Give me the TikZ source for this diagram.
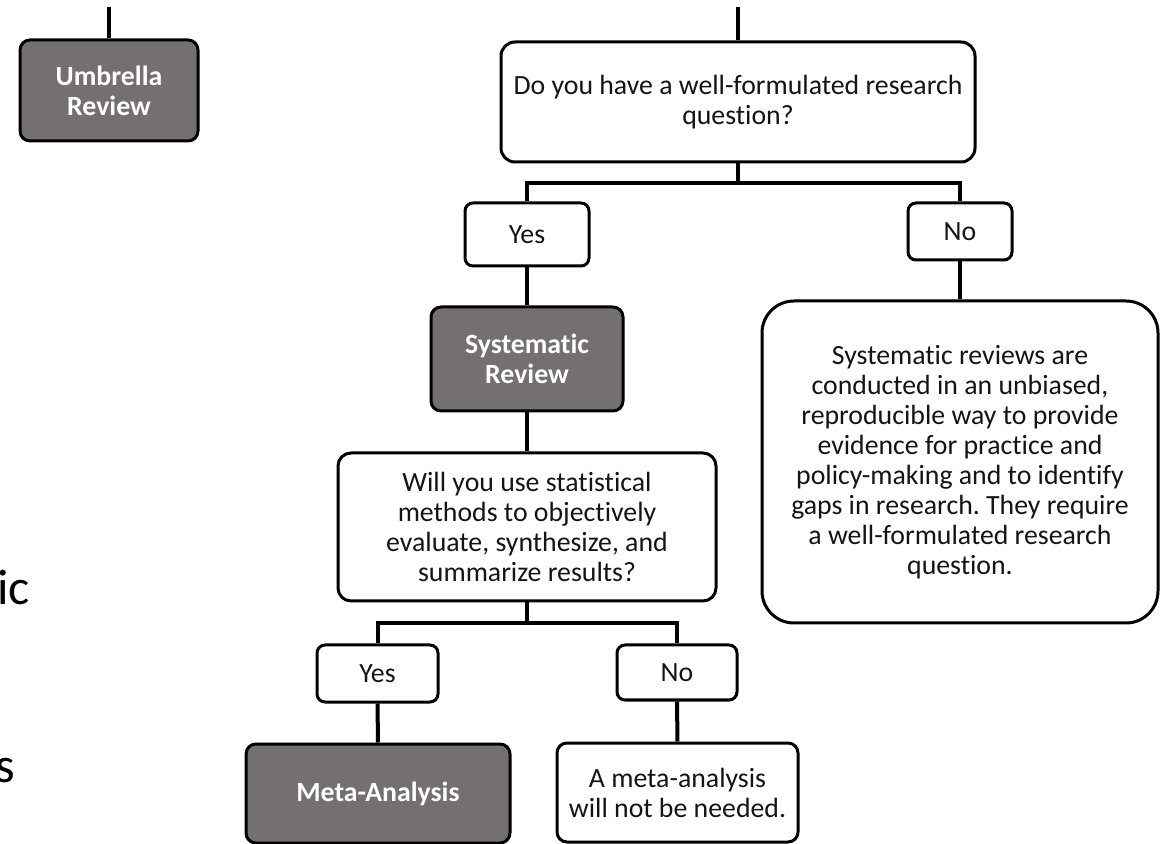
\documentclass[tikz,border=0pt]{standalone}
\usepackage{fontspec}
\setmainfont{Carlito}[Ligatures={NoCommon}]
\usepackage{tikz}
\usetikzlibrary{positioning}
\frenchspacing
\definecolor{revgray}{RGB}{117,112,112}
\definecolor{inkblack}{RGB}{20,20,20}
\newcommand{\boxfont}{\fontsize{13.9}{15}\selectfont}
\newcommand{\slidefont}{\fontsize{25}{30}\selectfont}
\tikzset{
  question/.style={draw=black, line width=1.5pt, fill=white, rounded corners=7pt,
                   align=center, font=\boxfont, text=inkblack, inner sep=2pt},
  answer/.style={draw=black, line width=1.5pt, fill=white, rounded corners=4pt,
                 align=center, font=\boxfont, text=inkblack, inner sep=2pt},
  review/.style={draw=black, line width=1.5pt, fill=revgray, rounded corners=5pt,
                 align=center, font=\boxfont\bfseries, text=white, inner sep=2pt},
  link/.style={draw=black, line width=2pt},
}

\begin{document}
\begin{tikzpicture}[x=0.5pt, y=-0.5pt,
  slidetext/.style={anchor=base west, inner sep=0pt, font=\slidefont, text=black},
]
\useasboundingbox (0,0) rectangle (1163,844);

\node[review, minimum width=89pt, minimum height=50.5pt] (umbrella) at (109,90.5) {Umbrella\\Review};
\node[question, minimum width=237pt, minimum height=60pt] (q1) at (738,102) {Do you have a well-formulated research\\question?};
\node[answer, minimum width=62pt, minimum height=31.5pt] (yes1) at (527,234.5) {Yes};
\node[answer, minimum width=52pt, minimum height=28.5pt] (no1) at (960,231.5) {No};
\node[review, minimum width=96pt, minimum height=52pt] (sysrev) at (527,359) {Systematic\\Review};
\node[question, rounded corners=16pt, minimum width=198pt, minimum height=161pt] (why) at (960,462)
  {Systematic reviews are\\conducted in an unbiased,\\reproducible way to provide\\evidence for practice and\\policy-making and to identify\\gaps in research. They require\\a well-formulated research\\question.};
\node[question, rounded corners=6.5pt, minimum width=189pt, minimum height=74pt] (q2) at (527,527)
  {Will you use statistical\\methods to objectively\\evaluate, synthesize, and\\summarize results?};
\node[answer, minimum width=60.5pt, minimum height=28.5pt] (yes2) at (377.5,673.5) {Yes};
\node[answer, minimum width=60pt, minimum height=27.5pt] (no2) at (677,672.5) {No};
\node[review, minimum width=132pt, minimum height=49.5pt] (meta) at (378,793.5) {Meta-Analysis};
\node[question, rounded corners=5pt, minimum width=120.5pt, minimum height=49.5pt] (noneed) at (677.5,792.5)
  {A meta-analysis\\will not be needed.};

\node[slidetext] (frag1) at (-3,605) {ic};
\node[slidetext] (frag2) at (-5,783) {s};

\coordinate (umbtop) at (109,7);
\coordinate (q1top) at (738,7);
\coordinate (bar1) at (738,183);
\coordinate (bar2) at (527,623);

\draw[link] (umbtop) -- (umbrella.north);
\draw[link] (q1top) -- (q1.north);
\draw[link] (q1.south) -- (bar1);
\draw[link] (yes1.north) |- (bar1) -| (no1.north);
\draw[link] (yes1.south) -- (sysrev.north);
\draw[link] (no1.south) -- (why.north);
\draw[link] (sysrev.south) -- (q2.north);
\draw[link] (q2.south) -- (bar2);
\draw[link] (yes2.north) |- (bar2) -| (no2.north);
\draw[link] (yes2.south) -- (meta.north);
\draw[link] (no2.south) -- (noneed.north);
\end{tikzpicture}
\end{document}
